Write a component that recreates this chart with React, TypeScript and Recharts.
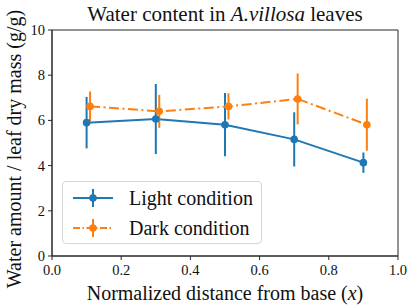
import React from "react";
import {
    ComposedChart,
    Line,
    XAxis,
    YAxis,
    ErrorBar,
    ReferenceArea,
} from "recharts";

const lightX = [0.1, 0.3, 0.5, 0.7, 0.9];
const lightMean = [5.9, 6.06, 5.81, 5.16, 4.13];
const lightErr = [1.14, 1.55, 1.4, 1.2, 0.45];

const darkX = [0.11, 0.31, 0.51, 0.71, 0.91];
const darkMean = [6.62, 6.4, 6.62, 6.95, 5.81];
const darkErr = [0.66, 0.73, 0.58, 1.13, 1.15];

const xTicks = [0, 0.2, 0.4, 0.6, 0.8, 1.0];
const yTicks = [0, 2, 4, 6, 8, 10];

const BLUE = "#1f77b4";
const ORANGE = "#ff7f0e";
const FONT = "Liberation Serif, DejaVu Serif, serif";
const AXIS = "#262626";
const DASH = "10 3.5 2 3.5";

const lightData = lightX.map((x, i) => ({ x, y: lightMean[i], err: lightErr[i] }));
const darkData = darkX.map((x, i) => ({ x, y: darkMean[i], err: darkErr[i] }));

function LegendIcon({ color, dashed }: { color: string; dashed?: boolean }) {
    return (
        <svg width={44} height={20} style={{ display: "block" }}>
            <line x1={2} y1={10} x2={42} y2={10} stroke={color} strokeWidth={2}
                strokeDasharray={dashed ? "7 2.5 1.5 2.5" : undefined} />
            <line x1={22} y1={1} x2={22} y2={19} stroke={color} strokeWidth={2} />
            <circle cx={22} cy={10} r={3.8} fill={color} />
        </svg>
    );
}

function LegendBox() {
    const row = { display: "flex", alignItems: "center", height: 30 };
    return (
        <div style={{
            position: "absolute", left: 62, top: 181,
            width: 200, height: 63, boxSizing: "border-box",
            border: "1px solid #d6d6d6", borderRadius: 4,
            background: "rgba(255,255,255,0.85)", padding: "1px 0 0 8px",
            fontFamily: FONT, fontSize: 20, color: "#111", whiteSpace: "nowrap",
        }}>
            <div style={row}><LegendIcon color={BLUE} /><span style={{ marginLeft: 14 }}>Light condition</span></div>
            <div style={row}><LegendIcon color={ORANGE} dashed /><span style={{ marginLeft: 14 }}>Dark condition</span></div>
        </div>
    );
}

const XTick = (props: any) => {
    const { x, y, payload } = props;
    return (
        <text x={x} y={y + 13} textAnchor="middle" style={{ fontFamily: FONT, fontSize: 14.5 }} fill="#111">
            {Number(payload.value).toFixed(1)}
        </text>
    );
};

const YTick = (props: any) => {
    const { x, y, payload } = props;
    return (
        <text x={x - 1} y={y + 5} textAnchor="end" style={{ fontFamily: FONT, fontSize: 14.5 }} fill="#111">
            {payload.value}
        </text>
    );
};

const XLabel = (props: any) => {
    const { viewBox } = props;
    const cx = viewBox.x + viewBox.width / 2;
    return (
        <text x={cx} y={viewBox.y + 44} textAnchor="middle" style={{ fontFamily: FONT, fontSize: 20 }} fill="#111">
            Normalized distance from base (<tspan fontStyle="italic">x</tspan>)
        </text>
    );
};

const YLabel = (props: any) => {
    const { viewBox } = props;
    const cy = viewBox.y + viewBox.height / 2 + 6;
    const cx = 20.5;
    return (
        <text x={cx} y={cy} textAnchor="middle" style={{ fontFamily: FONT, fontSize: 20 }} fill="#111"
            transform={`rotate(-90 ${cx} ${cy})`}>
            Water amount / leaf dry mass (g/g)
        </text>
    );
};

export default function App() {
    return (
        <div style={{
            position: "absolute", left: 0, top: 0, width: 415, height: 308,
            background: "#fff", fontFamily: FONT,
        }}>
            <div style={{
                position: "absolute", left: 52, width: 346, top: 2, textAlign: "center",
                fontFamily: FONT, fontSize: 21, color: "#111", lineHeight: "24px",
            }}>
                Water content in <i>A.villosa</i> leaves
            </div>
            <ComposedChart width={415} height={308} margin={{ top: 30, right: 17, left: 0, bottom: 0 }}>
                <XAxis type="number" dataKey="x" domain={[0, 1]} ticks={xTicks} height={52}
                    allowDataOverflow
                    tick={<XTick />}
                    tickSize={4} tickMargin={2}
                    axisLine={{ stroke: AXIS }} tickLine={{ stroke: AXIS }}
                    label={<XLabel />} />
                <YAxis type="number" domain={[0, 10]} ticks={yTicks} width={52}
                    allowDataOverflow
                    tick={<YTick />}
                    tickSize={4} tickMargin={2}
                    axisLine={{ stroke: AXIS }} tickLine={{ stroke: AXIS }}
                    label={<YLabel />} />
                <ReferenceArea x1={0} x2={1} y1={0} y2={10} fill="none" stroke={AXIS} strokeWidth={1} fillOpacity={0} />
                <Line data={lightData} dataKey="y" name="Light condition" type="linear"
                    stroke={BLUE} strokeWidth={2}
                    dot={{ r: 3.8, fill: BLUE, stroke: BLUE, strokeWidth: 0 }}
                    activeDot={false} isAnimationActive={false}>
                    <ErrorBar dataKey="err" direction="y" width={0} stroke={BLUE} strokeWidth={2} />
                </Line>
                <Line data={darkData} dataKey="y" name="Dark condition" type="linear"
                    stroke={ORANGE} strokeWidth={2} strokeDasharray={DASH}
                    dot={{ r: 3.8, fill: ORANGE, stroke: ORANGE, strokeWidth: 0, strokeDasharray: "" }}
                    activeDot={false} isAnimationActive={false}>
                    <ErrorBar dataKey="err" direction="y" width={0} stroke={ORANGE} strokeWidth={2} />
                </Line>
            </ComposedChart>
            <LegendBox />
        </div>
    );
}
